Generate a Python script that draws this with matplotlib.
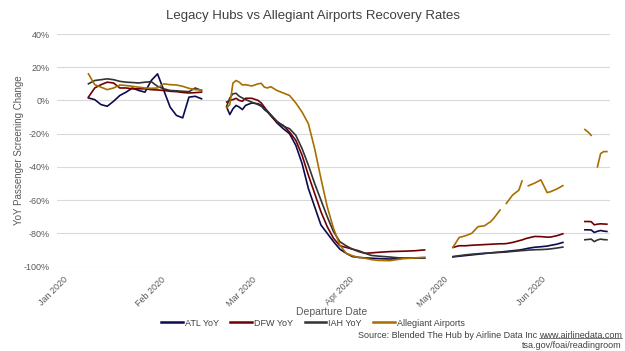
import numpy as np
import matplotlib
matplotlib.use("Agg")
import matplotlib.pyplot as plt
import matplotlib.dates as mdates
from matplotlib.lines import Line2D

plt.rcParams['font.family'] = ['Liberation Sans', 'DejaVu Sans']

N = None
dates = [
    # segment 1
    '2020-01-09', '2020-01-11', '2020-01-13', '2020-01-15', '2020-01-17', '2020-01-19',
    '2020-01-21', '2020-01-23', '2020-01-25', '2020-01-27', '2020-01-29', '2020-01-31',
    '2020-02-02', '2020-02-04', '2020-02-06', '2020-02-08', '2020-02-10', '2020-02-12',
    '2020-02-14',
    '2020-02-18',
    # segment 2
    '2020-02-22', '2020-02-23', '2020-02-24', '2020-02-25', '2020-02-26', '2020-02-27',
    '2020-02-28', '2020-03-01', '2020-03-03', '2020-03-04', '2020-03-05', '2020-03-06',
    '2020-03-07', '2020-03-09', '2020-03-11', '2020-03-13', '2020-03-15', '2020-03-17',
    '2020-03-19', '2020-03-21', '2020-03-23', '2020-03-25', '2020-03-27', '2020-03-29',
    '2020-03-31', '2020-04-02', '2020-04-04', '2020-04-06', '2020-04-08', '2020-04-10',
    '2020-04-14', '2020-04-18', '2020-04-22', '2020-04-25',
    '2020-04-29',
    # segment 3
    '2020-05-04', '2020-05-06', '2020-05-08', '2020-05-10', '2020-05-12', '2020-05-14',
    '2020-05-16', '2020-05-17', '2020-05-19', '2020-05-20', '2020-05-21', '2020-05-23',
    '2020-05-25', '2020-05-26', '2020-05-27', '2020-05-28', '2020-05-30', '2020-06-01',
    '2020-06-03', '2020-06-04', '2020-06-06', '2020-06-08',
    '2020-06-11',
    # segment 4
    '2020-06-15', '2020-06-16', '2020-06-17', '2020-06-18', '2020-06-19', '2020-06-20',
    '2020-06-21', '2020-06-22',
]

atl = [
    1.5, 0.5, -2.5, -3.5, -0.5, 3, 5, 7.5, 6, 5, 12, 16, 6, -4, -9, -10.5, 2, 2.5, 1,
    N,
    -4, -8.5, -5, -3, -4, -5.5, -3, -1.5, -2, -3, -5.5, -7, -9, -13.5, -17, -20, -27, -38,
    -53, -64, -75, -80, -85, -89.5, -92, -94, -94.5, -94.8, -95, -95.2, -95.5, -95, -95, -95,
    N,
    -94.2, -93.8, -93.4, -93, -92.6, -92.2, -91.8, -91.6, -91.3, -91.1, -90.9, -90.5,
    -90.1, -89.8, -89.4, -89, -88.4, -88.1, -87.7, -87.3, -86.6, -85.5,
    N,
    -77.9, -77.9, -78, -79.5, -78.8, -78.3, -78.7, -78.9,
]

dfw = [
    2, 7.5, 9.5, 11, 10.5, 7.5, 7.5, 7, 7, 7, 6.5, 6.3, 6, 5.5, 5.3, 4.8, 4.5, 4.7, 5,
    N,
    -1, 0, 0.5, 1.3, 0, -0.5, 1.3, 1.3, 0, -1.5, -4, -6.5, -9, -13, -15, -19, -24, -33,
    -45, -56, -67, -76, -83, -87.5, -88.5, -89.5, -91, -92, -91.8, -91.5, -91, -90.8, -90.5, -90,
    N,
    -88.5, -87.5, -87.5, -87.2, -87, -86.8, -86.6, -86.5, -86.3, -86.3, -86.2, -85.5,
    -84.5, -84, -83.3, -82.8, -81.9, -82, -82.3, -82.3, -81.5, -80.3,
    N,
    -72.9, -72.9, -73, -74.9, -74.5, -74.3, -74.4, -74.5,
]

iah = [
    10, 12, 12.5, 13, 12.5, 11.5, 11, 10.8, 10.5, 11, 11.3, 8.5, 7, 6, 5.8, 5.5, 5.3, 7.5, 6,
    N,
    -3.5, 1.5, 4, 4.3, 2.5, 1.5, 0.5, -1, -2.5, -3.5, -5, -6.5, -8.5, -12.5, -15.5, -17, -21, -29,
    -39, -50, -60, -70, -79, -85, -87.5, -89.5, -90.5, -92, -93.3, -93.7, -94.3, -95, -94.8, -94.6,
    N,
    -94, -93.5, -93, -92.6, -92.3, -92, -91.8, -91.7, -91.5, -91.4, -91.3, -90.9,
    -90.6, -90.4, -90.3, -90.1, -89.9, -89.8, -89.6, -89.4, -88.9, -88.3,
    N,
    -83.9, -83.7, -83.5, -85, -84, -83.5, -83.8, -83.9,
]

allegiant = [
    16, 9.5, 8, 6.5, 7.5, 9.3, 9, 8.5, 8, 7.5, 7.3, 7.5, 10, 9.5, 9.3, 8.5, 7.3, 6.5, 6.3,
    N,
    -4.5, -2.5, 10.5, 12, 11, 9.3, 9.5, 8.7, 10, 10.3, 8, 7.5, 8.3, 6, 4.5, 3, -1.5, -7,
    -14, -29, -47, -64, -77, -87, -92, -93.5, -94.5, -95, -95.8, -96.3, -96.5, -95.3, -94.8, -94.6,
    N,
    -88.5, -82.5, -81.5, -80, -76, -75.5, -73, -71, -66, N, -62, -57,
    -54, -48.5, N, -51.4, -49.8, -47.8, -55.5, -55, -53.4, -51.3,
    N,
    -17.5, -19, -21, N, -40, -32, -30.8, -30.8,
]

series_names = ['ATL YoY', 'DFW YoY', 'IAH YoY', 'Allegiant Airports']
series_colors = ['#0B0B50', '#700000', '#333333', '#A86E00']
y_ticks = [40, 20, 0, -20, -40, -60, -80, -100]
x_ticks = ['2020-01-01', '2020-02-01', '2020-03-01', '2020-04-01', '2020-05-01', '2020-06-01']

x = np.array(dates, dtype='datetime64[D]')

def arr(v):
    return np.array([np.nan if a is None else a for a in v], dtype=float)

fig = plt.figure(figsize=(6.25, 3.51), dpi=100)
ax = fig.add_axes([0.0912, 0.2407, 0.976 - 0.0912, 0.9031 - 0.2407])

for vals, name, col in zip([atl, dfw, iah, allegiant], series_names, series_colors):
    ax.plot(x, arr(vals), color=col, lw=1.2, label=name, solid_joinstyle='round')

ax.set_ylim(-100, 40)
ax.set_xlim(np.datetime64('2019-12-30'), np.datetime64('2020-06-23'))
ax.set_yticks(y_ticks)
ax.set_yticklabels([f'{t}%' for t in y_ticks])
xt = np.array(x_ticks, dtype='datetime64[D]')
ax.set_xticks(xt)
ax.set_xticklabels([mdates.num2date(mdates.date2num(t)).strftime('%b %Y') for t in xt],
                   rotation=45, ha='right', rotation_mode='anchor')
ax.tick_params(axis='both', length=0, labelsize=6.5, labelcolor='#595959')
ax.tick_params(axis='x', pad=6)
ax.tick_params(axis='y', pad=5)
ax.grid(axis='y', color='#D9D9D9', lw=0.8)
ax.set_axisbelow(True)
for s in ax.spines.values():
    s.set_visible(False)

fig.text(0.5, 1 - 16 / 351, 'Legacy Hubs vs Allegiant Airports Recovery Rates',
         ha='center', va='center', fontsize=9.5, color='#404040')
fig.text(0.030, 1 - 150 / 351, 'YoY Passenger Screening Change', rotation=90,
         ha='center', va='center', fontsize=7, color='#595959')
fig.text(332 / 625, 1 - 312 / 351, 'Departure Date', ha='center', va='center',
         fontsize=7.5, color='#595959')

handles = [Line2D([], [], color=c, lw=1.8) for c in series_colors]
fig.legend(handles, series_names, loc='center', bbox_to_anchor=(313 / 625, 1 - 323 / 351),
           ncol=4, frameon=False, fontsize=6.5, handlelength=2.4, handletextpad=0.2,
           columnspacing=1.3, labelcolor='#404040')

t2 = fig.text(622 / 625, 1 - 335 / 351, 'www.airlinedata.com', ha='right', va='center',
              fontsize=6.5, color='#404040')
fig.canvas.draw()
bb = t2.get_window_extent(fig.canvas.get_renderer())
inv = fig.transFigure.inverted()
(x0, y0), (x1, y1) = inv.transform([[bb.x0, bb.y0], [bb.x1, bb.y1]])
fig.add_artist(Line2D([x0, x1], [y0 + 0.005, y0 + 0.005], transform=fig.transFigure,
                      color='#404040', lw=0.5))
fig.text(x0 - 0.004, 1 - 335 / 351, 'Source: Blended The Hub by Airline Data Inc', ha='right',
         va='center', fontsize=6.5, color='#404040')
fig.text(622 / 625, 1 - 345.5 / 351, 'tsa.gov/foai/readingroom', ha='right', va='center',
         fontsize=6.5, color='#404040')

fig.savefig('out.png', dpi=100)
